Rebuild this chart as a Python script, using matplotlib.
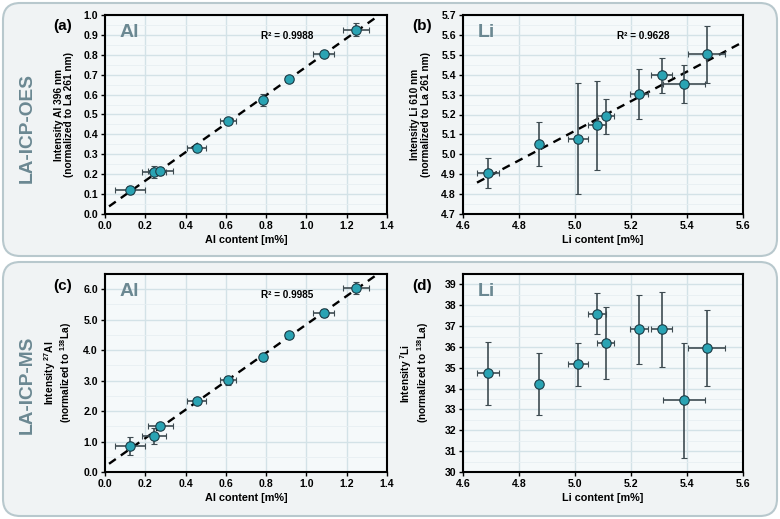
import numpy as np
import matplotlib
matplotlib.use("Agg")
import matplotlib.pyplot as plt
from matplotlib.patches import FancyBboxPatch
from matplotlib.ticker import MultipleLocator, FormatStrFormatter

plt.rcParams['font.family'] = ['Liberation Sans', 'DejaVu Sans']
plt.rcParams['font.weight'] = 'bold'
plt.rcParams['mathtext.fontset'] = 'custom'
plt.rcParams['mathtext.rm'] = 'Liberation Sans:bold'
plt.rcParams['mathtext.bf'] = 'Liberation Sans:bold'

# ---------------- data ----------------
al_content = [0.125, 0.245, 0.275, 0.455, 0.612, 0.783, 0.915, 1.085, 1.246]
al_content_err = [0.074, 0.06, 0.062, 0.047, 0.04, 0.012, 0.02, 0.054, 0.066]
al_oes = [0.122, 0.212, 0.217, 0.332, 0.465, 0.572, 0.678, 0.803, 0.927]
al_oes_err = [0.02, 0.03, 0.02, 0.015, 0.01, 0.03, 0.01, 0.01, 0.035]
al_ms = [0.85, 1.18, 1.52, 2.32, 3.01, 3.76, 4.50, 5.22, 6.03]
al_ms_err = [0.3, 0.25, 0.1, 0.1, 0.15, 0.12, 0.08, 0.12, 0.2]

li_content = [4.69, 4.87, 5.01, 5.08, 5.11, 5.23, 5.31, 5.39, 5.47]
li_content_err = [0.04, 0.0, 0.035, 0.032, 0.031, 0.032, 0.037, 0.075, 0.065]
li_oes = [4.905, 5.05, 5.079, 5.145, 5.191, 5.302, 5.396, 5.355, 5.502]
li_oes_err = [0.075, 0.11, 0.28, 0.225, 0.088, 0.125, 0.087, 0.095, 0.145]
li_ms = [34.73, 34.23, 35.16, 37.59, 36.18, 36.84, 36.84, 33.44, 35.96]
li_ms_err = [1.5, 1.49, 1.04, 0.98, 1.72, 1.67, 1.78, 2.77, 1.81]

r2_texts = ["R² = 0.9988", "R² = 0.9628", "R² = 0.9985", None]
panel_labels = ["(a)", "(b)", "(c)", "(d)"]
elements = ["Al", "Li", "Al", "Li"]
row_titles = ["LA-ICP-OES", "LA-ICP-MS"]
xlabels = ["Al content [m%]", "Li content [m%]", "Al content [m%]", "Li content [m%]"]
ylabels = ["Intensity Al 396 nm\n(normalized to La 261 nm)",
           "Intensity Li 610 nm\n(normalized to La 261 nm)",
           "Intensity $^{27}$Al\n(normalized to $^{138}$La)",
           "Intensity $^{7}$Li\n(normalized to $^{138}$La)"]

# ---------------- style ----------------
W, H = 780, 519
fig = plt.figure(figsize=(W / 100, H / 100), dpi=100)
fig.patch.set_facecolor('white')

box_face = '#f0f3f4'
box_edge = '#b8c8cd'
gray_blue = '#6b8892'
marker_face = '#2aa3b3'
marker_edge = '#1c3b45'
err_col = '#3e4b51'

def px_box(x0, y0, x1, y1):
    return [x0 / W, 1 - y1 / H, (x1 - x0) / W, (y1 - y0) / H]

# rounded background boxes
for (y0, y1) in [(3, 256), (262, 516)]:
    r = FancyBboxPatch((3 / W, 1 - y1 / H), (774 / W), (y1 - y0) / H,
                       boxstyle="round,pad=0,rounding_size=0.022",
                       transform=fig.transFigure, facecolor=box_face,
                       edgecolor=box_edge, linewidth=1.5, zorder=-10,
                       mutation_aspect=W / H)
    fig.patches.append(r)

axes_px = [(105, 15, 387, 214), (463, 15, 743, 214),
           (105, 274, 387, 472), (463, 274, 743, 472)]

data = [
    (al_content, al_oes, al_content_err, al_oes_err),
    (li_content, li_oes, li_content_err, li_oes_err),
    (al_content, al_ms, al_content_err, al_ms_err),
    (li_content, li_ms, li_content_err, li_ms_err),
]
xlims = [(0, 1.4), (4.6, 5.6), (0, 1.4), (4.6, 5.6)]
ylims = [(0, 1.0), (4.7, 5.7), (0, 6.5), (30, 39.5)]
xmaj = [0.2, 0.2, 0.2, 0.2]
ymaj = [0.1, 0.1, 1.0, 1.0]
yfmt = ['%.1f', '%.1f', '%.1f', '%d']
fit_range = [(0.02, 1.4), (4.65, 5.6), (0.02, 1.4), None]
ylab_x = [-0.11, -0.115, -0.11, -0.115]

for i, (bx) in enumerate(axes_px):
    ax = fig.add_axes(px_box(*bx))
    ax.set_zorder(5)
    ax.set_facecolor('#f5f9fa')
    x, y, xe, ye = data[i]
    ax.set_xlim(*xlims[i])
    ax.set_ylim(*ylims[i])
    ax.xaxis.set_major_locator(MultipleLocator(xmaj[i]))
    ax.yaxis.set_major_locator(MultipleLocator(ymaj[i]))
    ax.yaxis.set_minor_locator(MultipleLocator(ymaj[i] / 2))
    ax.xaxis.set_major_formatter(FormatStrFormatter('%.1f'))
    ax.yaxis.set_major_formatter(FormatStrFormatter(yfmt[i]))
    ax.grid(True, which='major', color='#d3e2e7', lw=1.0, zorder=0)
    ax.grid(True, which='minor', axis='y', color='#e7eff2', lw=0.6, zorder=0)
    ax.set_axisbelow(True)
    ax.tick_params(which='major', direction='out', length=3, width=1.0,
                   labelsize=7.6, pad=2)
    ax.tick_params(which='minor', length=0)
    for lab in ax.get_xticklabels() + ax.get_yticklabels():
        lab.set_fontweight('bold')
    for s in ax.spines.values():
        s.set_linewidth(1.5)
        s.set_color('black')

    if fit_range[i] is not None:
        k, b = np.polyfit(x, y, 1)
        xf = np.array(fit_range[i])
        ax.plot(xf, k * xf + b, color='black', lw=1.7, dashes=(3.5, 2.6), zorder=2)

    ax.errorbar(x, y, xerr=xe, yerr=ye, fmt='o', ms=6.8, mfc=marker_face,
                mec=marker_edge, mew=0.8, ecolor=err_col, elinewidth=1.2,
                capsize=2.2, capthick=1.0, zorder=3)

    ax.set_xlabel(xlabels[i], fontsize=7.8, fontweight='bold')
    ax.xaxis.set_label_coords(0.5, -0.105)
    ax.set_ylabel(ylabels[i], fontsize=7.3, fontweight='bold', linespacing=1.05)
    ax.yaxis.set_label_coords(ylab_x[i], 0.5)

    ax.text(0.053, 0.91, elements[i], transform=ax.transAxes, fontsize=14,
            fontweight='bold', color=gray_blue, va='center', ha='left')
    if r2_texts[i]:
        ax.text(0.645, 0.895, r2_texts[i], transform=ax.transAxes, fontsize=7.2,
                fontweight='bold', va='center', ha='center')

    # panel label
    lx = 63 if i % 2 == 0 else 422
    ly = 26 if i < 2 else 286
    fig.text(lx / W, 1 - ly / H, panel_labels[i], fontsize=11,
             fontweight='bold', ha='center', va='center')

# row titles
fig.text(27 / W, 1 - 128 / H, row_titles[0], rotation=90, fontsize=13.8,
         fontweight='bold', color=gray_blue, ha='center', va='center')
fig.text(27 / W, 1 - 385 / H, row_titles[1], rotation=90, fontsize=13.8,
         fontweight='bold', color=gray_blue, ha='center', va='center')

fig.savefig('out.png', dpi=100)
